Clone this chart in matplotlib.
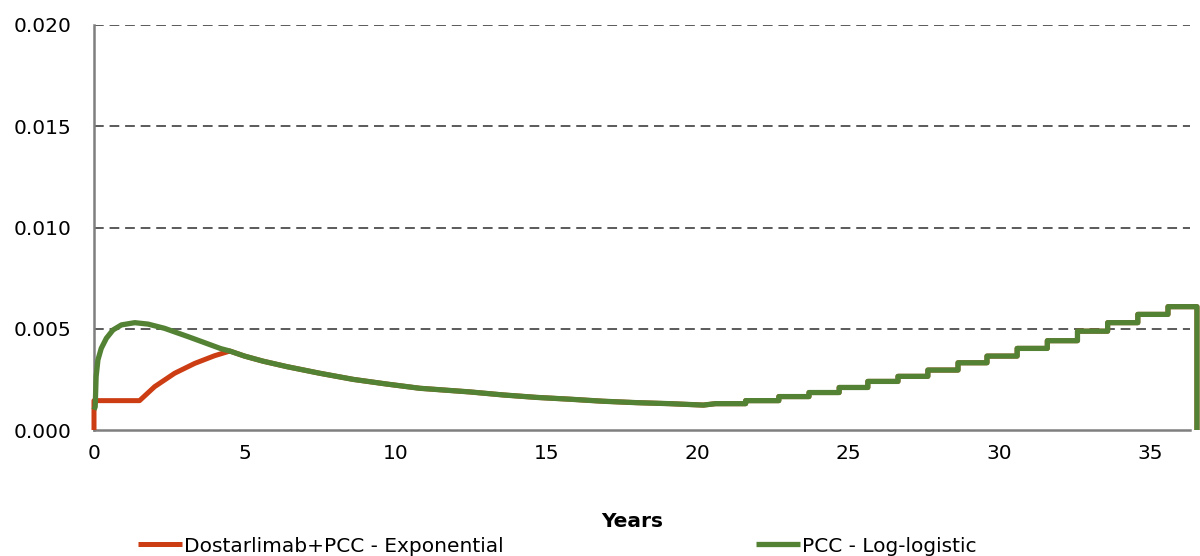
import numpy as np
import matplotlib
matplotlib.use('Agg')
import matplotlib.pyplot as plt

# hazard over time
# red head (before it joins the green curve)
red_t = [0.0, 0.0, 1.51, 2.01, 2.67, 3.34, 4.0, 4.44]
red_v = [0.0, 0.00145, 0.00145, 0.00214, 0.0028, 0.00329, 0.00367, 0.00387]

# green head (before 4.5 years)
green_t = [0.0, 0.04, 0.07, 0.13, 0.24, 0.41, 0.63, 0.91, 1.35, 1.79, 2.34, 3.12, 3.78, 4.2]
green_v = [0.001, 0.00115, 0.00263, 0.00346, 0.00403, 0.00453, 0.00494, 0.00519, 0.0053, 0.00523,
           0.00502, 0.00461, 0.00425, 0.00402]

# shared smooth tail
tail_t = [4.5, 4.99, 5.6, 6.39, 7.49, 8.59, 9.7, 10.8, 12.46, 13.57, 14.67, 15.78, 16.88, 17.99,
          19.09, 20.2]
tail_v = [0.0039, 0.00365, 0.0034, 0.00313, 0.0028, 0.0025, 0.00227, 0.00206, 0.00188, 0.00173,
          0.00161, 0.00152, 0.00142, 0.00135, 0.0013, 0.00123]

# annual steps at the end
step_edges = [20.6, 21.6, 22.7, 23.7, 24.7, 25.65, 26.65, 27.64, 28.64, 29.6, 30.6, 31.6, 32.6,
              33.6, 34.6, 35.6, 36.56]
step_vals = [0.0013, 0.00145, 0.00165, 0.00185, 0.0021, 0.0024, 0.00265, 0.00296, 0.00332,
             0.00365, 0.00403, 0.00441, 0.00488, 0.0053, 0.00571, 0.00609]

labels = ['Dostarlimab+PCC - Exponential', 'PCC - Log-logistic']
colors = ['#CC3D14', '#548235']
yticks = [0.0, 0.005, 0.010, 0.015, 0.020]
xticks = [0, 5, 10, 15, 20, 25, 30, 35]


def build(head_t, head_v):
    st = np.repeat(step_edges, 2)[1:-1]
    sv = np.repeat(step_vals, 2)
    t = np.concatenate([head_t, tail_t, st, [step_edges[-1]]])
    v = np.concatenate([head_v, tail_v, sv, [0.0]])
    return t, v


fig = plt.figure(figsize=(12, 5.56), dpi=100)
ax = fig.add_axes([94 / 1200, 1 - 430 / 556, (1190 - 94) / 1200, (430 - 25) / 556])

rt, rv = build(red_t, red_v)
gt, gv = build(green_t, green_v)
ax.plot(rt, rv, color=colors[0], lw=3.6, label=labels[0], clip_on=False,
        solid_joinstyle='round', solid_capstyle='butt', zorder=3)
ax.plot(gt, gv, color=colors[1], lw=3.8, label=labels[1], clip_on=False,
        solid_joinstyle='round', solid_capstyle='butt', zorder=4)

ax.set_xlim(0, 36.33)
ax.set_ylim(0, 0.020)
ax.set_xticks(xticks)
ax.set_yticks(yticks)
ax.set_yticklabels(['%.3f' % y for y in yticks])
ax.tick_params(axis='x', length=0, pad=10, labelsize=14.5, colors='black')
ax.tick_params(axis='y', length=0, pad=16, labelsize=14.5, colors='black')

for y in yticks[1:]:
    ax.axhline(y, color='#5a5a5a', lw=1.4, dashes=(5, 3), zorder=1)

for s in ['top', 'right']:
    ax.spines[s].set_visible(False)
for s in ['left', 'bottom']:
    ax.spines[s].set_color('#7f7f7f')
    ax.spines[s].set_linewidth(1.8)

ax.set_xlabel('Years', fontsize=14.5, fontweight='bold')
ax.xaxis.set_label_coords((632 - 94) / (1190 - 94), 1 - (512 - 25) / 405)

ax.legend(loc='center left', bbox_to_anchor=(138 / 1200, 1 - 546 / 556),
          bbox_transform=fig.transFigure, ncol=2, frameon=False, fontsize=14.5,
          handlelength=2.2, handletextpad=0.1, columnspacing=12.5,
          borderaxespad=0, borderpad=0)

fig.savefig('out.png', dpi=100)
